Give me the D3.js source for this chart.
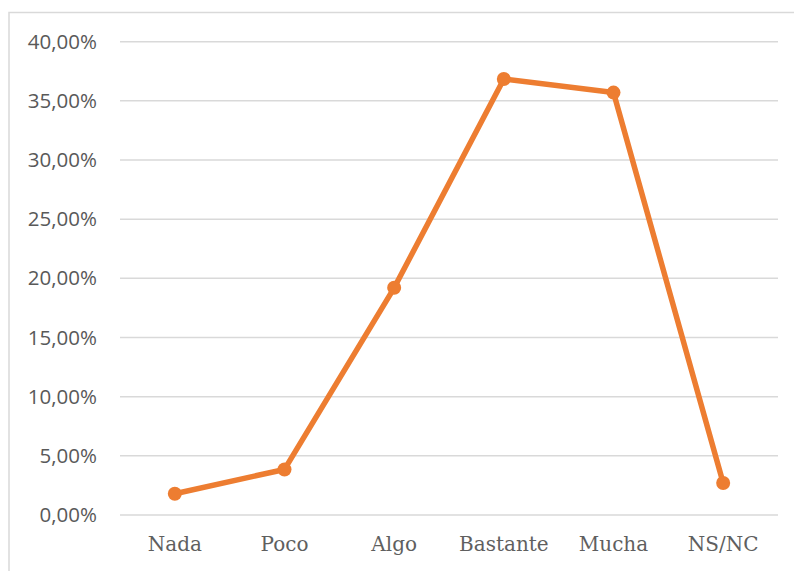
<!DOCTYPE html>
<html>
<head>
<meta charset="utf-8">
<script src="https://cdn.jsdelivr.net/npm/d3@7"></script>
<style>
  body { margin: 0; background: #fff; }
</style>
</head>
<body>
<div id="chart"></div>
<script>
// data
var categories = ["Nada", "Poco", "Algo", "Bastante", "Mucha", "NS/NC"];
var values = [1.8, 3.85, 19.2, 36.85, 35.7, 2.7];
var yTicks = [0, 5, 10, 15, 20, 25, 30, 35, 40];

var svgWidth = 794;
var svgHeight = 571;

var margin = { top: 41.7, right: 16, bottom: 56, left: 120 };
var width = 778 - margin.left;
var height = 515 - margin.top;

var svg = d3.select("#chart")
    .append("svg")
    .attr("width", svgWidth)
    .attr("height", svgHeight);

// outer frame (runs off right and bottom edges)
svg.append("rect")
    .attr("x", 9)
    .attr("y", 12.5)
    .attr("width", 800)
    .attr("height", 600)
    .attr("fill", "none")
    .attr("stroke", "#d9d9d9")
    .attr("stroke-width", 1.5);

var chartGroup = svg.append("g")
    .attr("transform", `translate(${margin.left},${margin.top})`);

var xScale = d3.scaleBand()
    .domain(categories)
    .range([0, width]);

var yScale = d3.scaleLinear()
    .domain([0, 40])
    .range([height, 0]);

// gridlines
chartGroup.selectAll(".grid")
    .data(yTicks)
    .enter()
    .append("line")
    .attr("x1", 0)
    .attr("x2", width)
    .attr("y1", d => yScale(d))
    .attr("y2", d => yScale(d))
    .attr("stroke", "#d9d9d9")
    .attr("stroke-width", 1.5);

// y axis labels
var leftAxis = d3.axisLeft(yScale)
    .tickValues(yTicks)
    .tickSize(0)
    .tickPadding(23)
    .tickFormat(d => d.toFixed(2).replace(".", ",") + "%");

var yAxis = chartGroup.append("g").call(leftAxis);
yAxis.select(".domain").remove();
yAxis.selectAll("text")
    .attr("fill", "#595959")
    .style("font-family", "'Open Sans', sans-serif")
    .style("font-size", "20.5px");

// x axis labels
var bottomAxis = d3.axisBottom(xScale)
    .tickSize(0)
    .tickPadding(22);

var xAxis = chartGroup.append("g")
    .attr("transform", `translate(0, ${height})`)
    .call(bottomAxis);
xAxis.select(".domain").remove();
xAxis.selectAll("text")
    .attr("fill", "#5f5f5f")
    .style("font-family", "'DejaVu Serif', serif")
    .style("font-size", "20px");

// line
var line = d3.line()
    .x((d, i) => xScale(categories[i]) + xScale.bandwidth() / 2)
    .y(d => yScale(d));

chartGroup.append("path")
    .datum(values)
    .attr("d", line)
    .attr("fill", "none")
    .attr("stroke", "#ED7D31")
    .attr("stroke-width", 5.5)
    .attr("stroke-linejoin", "round");

chartGroup.selectAll(".dot")
    .data(values)
    .enter()
    .append("circle")
    .attr("cx", (d, i) => xScale(categories[i]) + xScale.bandwidth() / 2)
    .attr("cy", d => yScale(d))
    .attr("r", 7)
    .attr("fill", "#ED7D31");
</script>
</body>
</html>
